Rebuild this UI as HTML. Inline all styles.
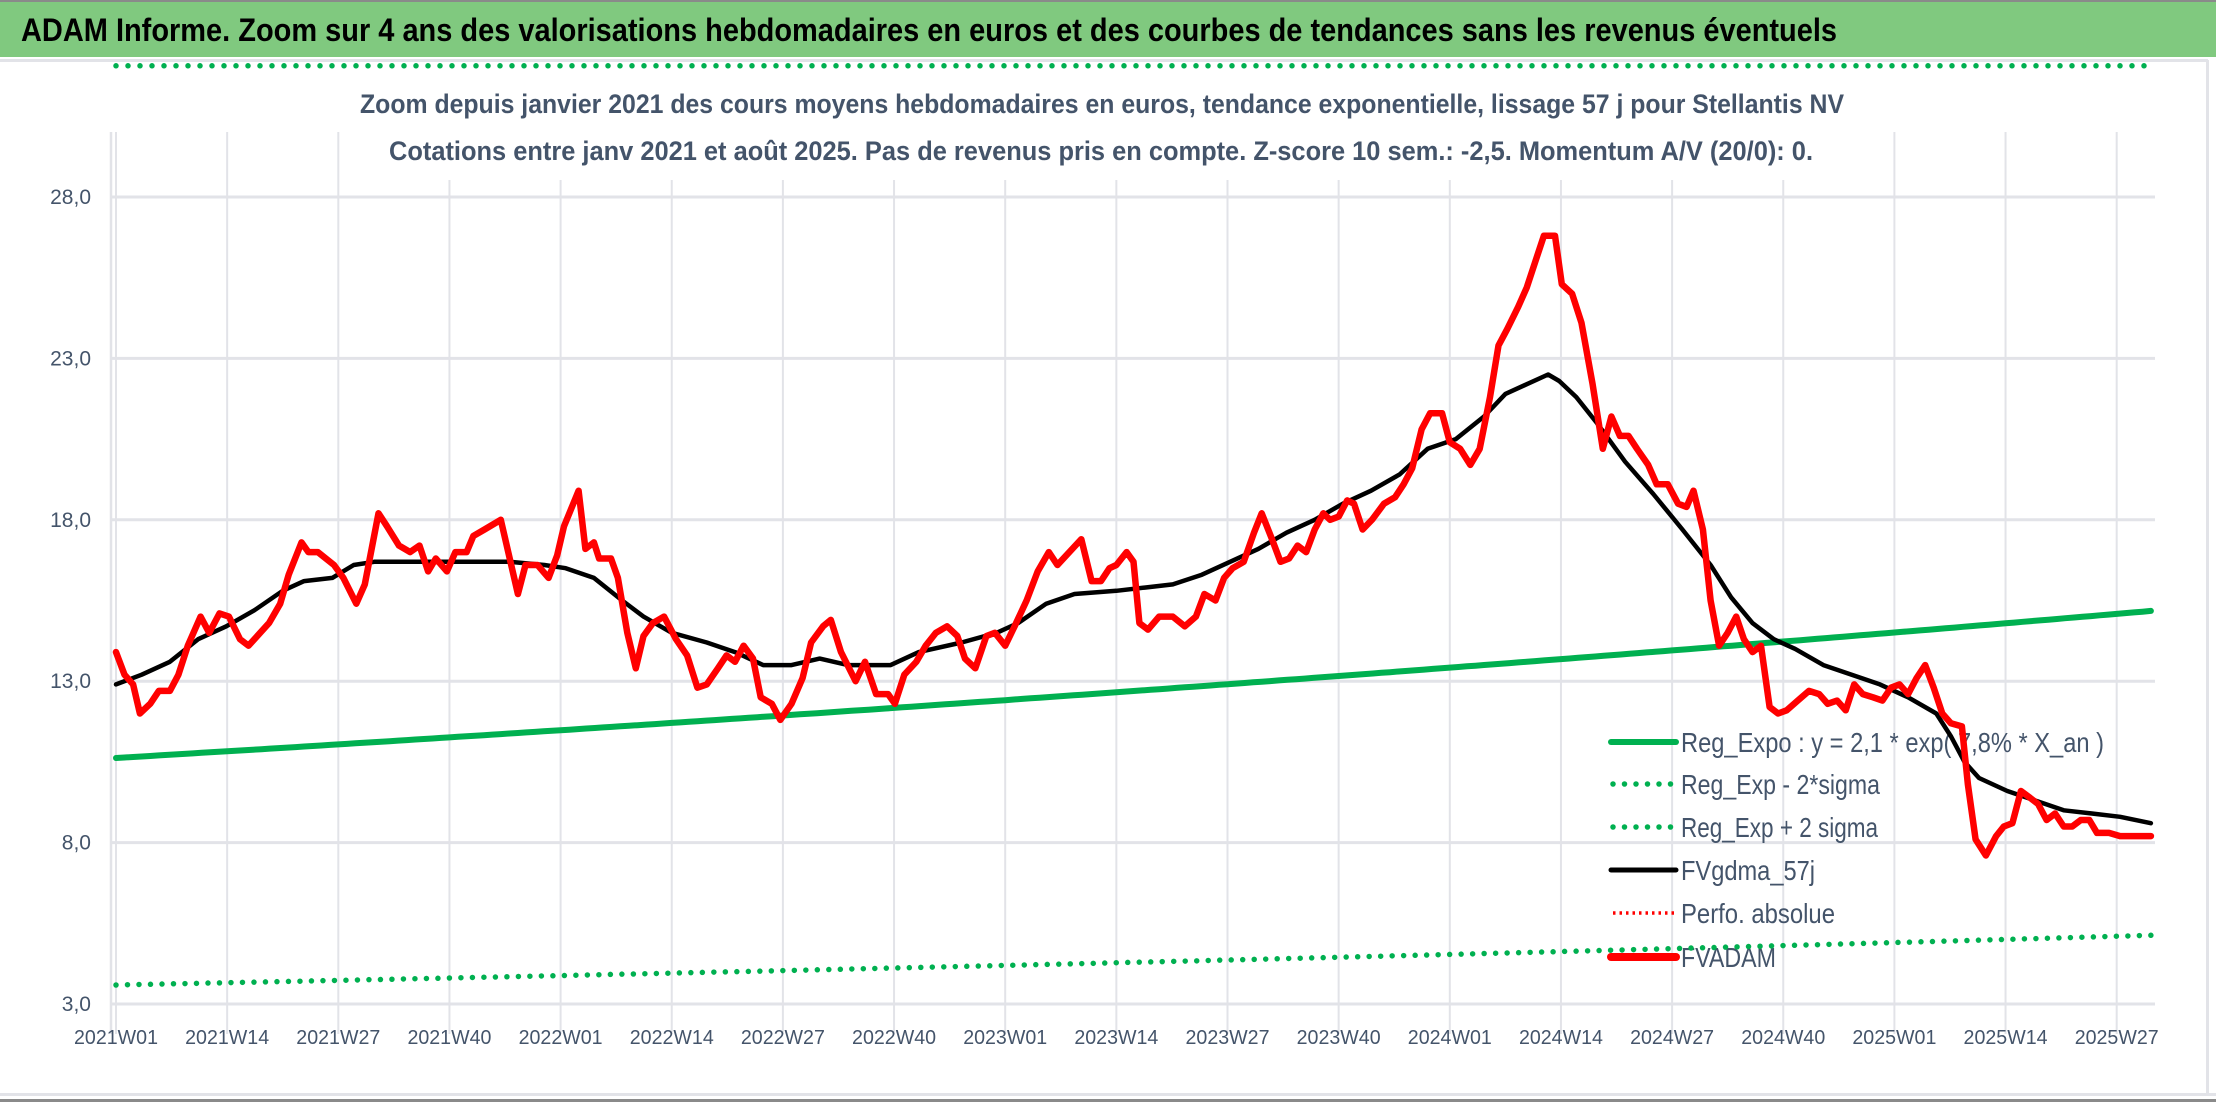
<!DOCTYPE html>
<html><head><meta charset="utf-8"><style>
html,body{margin:0;padding:0;background:#fff;}
svg{display:block;font-family:"Liberation Sans",sans-serif;}
</style></head><body>
<svg id="chart" width="2216" height="1102" viewBox="0 0 2216 1102" xmlns="http://www.w3.org/2000/svg">
<rect x="0" y="0" width="2216" height="1102" fill="#fff"/>
<rect x="0" y="0" width="2216" height="57" fill="#80c97f"/>
<rect x="0" y="0" width="2216" height="2" fill="#8a8a8a"/>
<rect x="0" y="59" width="2208" height="3" fill="#e2e3e8"/>
<rect x="2206" y="60" width="3" height="1035" fill="#e2e3e8"/>
<rect x="0" y="1093" width="2216" height="3" fill="#e2e3e8"/>
<rect x="0" y="1099" width="2216" height="3" fill="#8a8a8a"/>
<text x="21" y="41" font-size="32" font-weight="bold" fill="#000" textLength="1816" lengthAdjust="spacingAndGlyphs">ADAM Informe. Zoom sur 4 ans des valorisations hebdomadaires en euros et des courbes de tendances sans les revenus éventuels</text>
<g id="grid"></g>
<g id="upper"></g>
<rect x="350" y="85" width="1500" height="95" fill="#fff"/>
<text x="1102" y="113" font-size="27" font-weight="bold" fill="#44546a" text-anchor="middle" textLength="1484" lengthAdjust="spacingAndGlyphs">Zoom depuis janvier 2021 des cours moyens hebdomadaires en euros, tendance exponentielle, lissage 57 j pour Stellantis NV</text>
<text x="1101" y="160" font-size="27" font-weight="bold" fill="#44546a" text-anchor="middle" textLength="1424" lengthAdjust="spacingAndGlyphs">Cotations entre janv 2021 et août 2025. Pas de revenus pris en compte. Z-score 10 sem.: -2,5. Momentum A/V (20/0): 0.</text>
<g id="axes"></g>
<g id="legend">
 <line x1="1611" y1="742" x2="1676" y2="742" stroke="#00b050" stroke-width="6" stroke-linecap="round"/>
 <text x="1681" y="752" font-size="28" fill="#44546a" textLength="423" lengthAdjust="spacingAndGlyphs">Reg_Expo : y = 2,1 * exp( 7,8% *  X_an )</text>
 <line x1="1613" y1="784" x2="1676" y2="784" stroke="#00b050" stroke-width="5.5" stroke-linecap="round" stroke-dasharray="0 11.5"/>
 <text x="1681" y="794" font-size="28" fill="#44546a" textLength="199" lengthAdjust="spacingAndGlyphs">Reg_Exp - 2*sigma</text>
 <line x1="1613" y1="827" x2="1676" y2="827" stroke="#00b050" stroke-width="5.5" stroke-linecap="round" stroke-dasharray="0 11.5"/>
 <text x="1681" y="837" font-size="28" fill="#44546a" textLength="197" lengthAdjust="spacingAndGlyphs">Reg_Exp + 2 sigma</text>
 <line x1="1611" y1="870" x2="1676" y2="870" stroke="#000" stroke-width="5" stroke-linecap="round"/>
 <text x="1681" y="880" font-size="28" fill="#44546a" textLength="134" lengthAdjust="spacingAndGlyphs">FVgdma_57j</text>
 <line x1="1613" y1="913" x2="1676" y2="913" stroke="#ff0000" stroke-width="3.5" stroke-dasharray="2.5 4"/>
 <text x="1681" y="923" font-size="28" fill="#44546a" textLength="154" lengthAdjust="spacingAndGlyphs">Perfo. absolue</text>
 <line x1="1611" y1="957" x2="1676" y2="957" stroke="#ff0000" stroke-width="8" stroke-linecap="round"/>
 <text x="1681" y="967" font-size="28" fill="#44546a" textLength="95" lengthAdjust="spacingAndGlyphs">FVADAM</text>
</g>
<g id="series"></g>
</svg>
<script>
// ---- data ----
const xTickLabels = ["2021W01","2021W14","2021W27","2021W40","2022W01","2022W14","2022W27","2022W40","2023W01","2023W14","2023W27","2023W40","2024W01","2024W14","2024W27","2024W40","2025W01","2025W14","2025W27"];
const yTickValues = [3,8,13,18,23,28];
const yTickLabels = ["3,0","8,0","13,0","18,0","23,0","28,0"];
const weekCount = 239;
const regStart = 10.62;
const regRate = 0.078;
const lowerFactor = 0.338;
const upperClip = 30.05;
const fvadamWeeks = [0,1,2,2.8,4,5,6.3,7.3,8.4,9.9,10.9,12.1,13.2,14.5,15.5,17.9,19.2,20.2,21.7,22.5,23.6,25.5,26.6,28.1,29.1,30.7,31.7,33.1,34.4,35.5,36.5,37.4,38.7,39.7,41,41.8,43.1,45,47,47.9,49.3,50.6,51.6,52.4,54.1,54.9,55.9,56.5,57.9,58.7,59.8,60.8,61.7,62.8,64.1,65.5,66.8,68,69.1,70.4,71.4,72.4,73.4,74.5,75.4,76.7,77.7,79,80.3,81.3,82.7,83.6,84.8,86.5,87.6,88.9,90.3,91.1,92.2,93.6,94.7,95.9,97.2,98.4,99.3,100.5,101.8,102.8,104,105.1,106.5,107.8,109.1,110.1,112.9,114.1,115.2,116.2,117,118.2,119,119.7,120.7,122,123.6,125,126.3,127.3,128.6,129.6,130.6,131.9,133.1,134,135.2,136.2,137.2,138.2,139.2,140.2,141.2,142,143,144,144.8,145.8,146.9,148.3,149.6,150.6,151.6,152.7,153.7,155.1,156,157.2,158.4,159.5,160.7,161.7,162.7,164,165,166,167,168.3,169.1,170.3,171.4,172.7,173.9,174.9,175.9,176.9,177.9,179.2,180.2,181.5,182.7,183.7,184.5,185.6,186.5,187.5,188.5,189.5,190.4,191.4,192.4,193.4,194.4,195.4,196.7,198,199.2,200.2,201.3,202.3,203.3,204.3,205.5,206.6,207.6,208.6,209.6,210.6,211.6,212.6,213.6,214.6,215.9,216.6,217.5,218.7,219.9,220.8,221.8,222.8,223.8,224.8,225.8,226.8,227.8,228.8,229.8,230.8,231.7,233.1,234.4,236,238];
const fvadamValues = [13.9,13.2,12.9,12.0,12.3,12.7,12.7,13.2,14.1,15.0,14.5,15.1,15.0,14.3,14.1,14.8,15.4,16.3,17.3,17.0,17.0,16.6,16.2,15.4,16.0,18.2,17.8,17.2,17.0,17.2,16.4,16.8,16.4,17.0,17.0,17.5,17.7,18.0,15.7,16.6,16.6,16.2,16.9,17.8,18.9,17.1,17.3,16.8,16.8,16.2,14.5,13.4,14.4,14.8,15.0,14.3,13.8,12.8,12.9,13.4,13.8,13.6,14.1,13.7,12.5,12.3,11.8,12.3,13.1,14.2,14.7,14.9,13.9,13.0,13.6,12.6,12.6,12.3,13.2,13.6,14.1,14.5,14.7,14.4,13.7,13.4,14.4,14.5,14.1,14.7,15.5,16.4,17.0,16.6,17.4,16.1,16.1,16.5,16.6,17.0,16.7,14.8,14.6,15.0,15.0,14.7,15.0,15.7,15.5,16.2,16.5,16.7,17.6,18.2,17.4,16.7,16.8,17.2,17.0,17.7,18.2,18.0,18.1,18.6,18.5,17.7,18.0,18.5,18.7,19.1,19.6,20.8,21.3,21.3,20.4,20.2,19.7,20.2,21.8,23.4,23.9,24.6,25.2,26.0,26.8,26.8,25.3,25.0,24.1,22.2,20.2,21.2,20.6,20.6,20.2,19.7,19.1,19.1,18.5,18.4,18.9,17.7,15.5,14.1,14.5,15.0,14.3,13.9,14.1,12.2,12.0,12.1,12.4,12.7,12.6,12.3,12.4,12.1,12.9,12.6,12.5,12.4,12.8,12.9,12.6,13.1,13.5,12.8,12.0,11.7,11.6,9.8,8.1,7.6,8.2,8.5,8.6,9.6,9.4,9.2,8.7,8.9,8.5,8.5,8.7,8.7,8.3,8.3,8.2,8.2,8.2];
const smoothWeeks = [0,3,6.3,9.6,12.9,16.2,19.5,22,25.3,27.8,30.2,34.4,41,46,50.1,52.6,55.9,59.2,61.7,65,69.1,72.4,75.7,79,82.3,85.6,88.1,90.6,93.9,98.9,103,105.5,108.8,112.1,117,120.3,123.6,127,130.3,133.6,136.9,140.2,143.5,146.8,150.1,153.4,156.7,160,162.5,165,167.5,168.8,170.8,173.2,176.5,179.8,183.2,186.5,188.9,191.4,193.9,196.4,199.7,203,206.3,209.6,212.9,214.6,216.2,217.9,221.2,224.5,227.8,231.1,234.4,238];
const smoothValues = [12.9,13.2,13.6,14.3,14.7,15.2,15.8,16.1,16.2,16.6,16.7,16.7,16.7,16.7,16.6,16.5,16.2,15.5,15.0,14.5,14.2,13.9,13.5,13.5,13.7,13.5,13.5,13.5,13.9,14.2,14.5,14.8,15.4,15.7,15.8,15.9,16.0,16.3,16.7,17.1,17.6,18.0,18.5,18.9,19.4,20.2,20.5,21.2,21.9,22.2,22.5,22.3,21.8,21.0,19.8,18.8,17.7,16.6,15.6,14.8,14.3,14.0,13.5,13.2,12.9,12.5,12.0,11.3,10.5,10.0,9.6,9.3,9.0,8.9,8.8,8.6];

// ---- axes ----
const X0 = 116, PX_PER_WEEK = 8.55;
const Y_TOP = 197, Y_BOT = 1004, V_TOP = 28, V_BOT = 3;
const PLOT_L = 111, PLOT_R = 2155;
function xScale(w){ return X0 + w * PX_PER_WEEK; }
function yScale(v){ return Y_BOT - (v - V_BOT) * (Y_BOT - Y_TOP) / (V_TOP - V_BOT); }
const NS = "http://www.w3.org/2000/svg";
function mk(tag, attrs, parent){ const e = document.createElementNS(NS, tag); for (const k in attrs) e.setAttribute(k, attrs[k]); parent.appendChild(e); return e; }
function regValue(w){ return regStart * Math.exp(regRate * w / 52); }

const grid = document.getElementById('grid');
const axes = document.getElementById('axes');
yTickValues.forEach((v, i) => {
  const gl = mk('line', {x1: PLOT_L, x2: PLOT_R, y1: yScale(v), y2: yScale(v), stroke: '#e2e3e8', 'stroke-width': 3}, grid);
  
  
  const t = mk('text', {x: 91, y: yScale(v) + 7, 'font-size': 21, fill: '#44546a', 'text-anchor': 'end'}, axes);
  t.textContent = yTickLabels[i];
  
  
});
const vl = mk('line', {x1: PLOT_L, x2: PLOT_L, y1: 132, y2: Y_BOT + 30, stroke: '#e2e3e8', 'stroke-width': 2.5}, grid);


xTickLabels.forEach((lab, i) => {
  const x = xScale(i * 13);
  const gl = mk('line', {x1: x, x2: x, y1: 132, y2: Y_BOT + 30, stroke: '#e2e3e8', 'stroke-width': 2}, grid);
  
  
  const t = mk('text', {x: x, y: 1044, 'font-size': 20, fill: '#44546a', 'text-anchor': 'middle', textLength: 84, lengthAdjust: 'spacingAndGlyphs'}, axes);
  t.textContent = lab;
  
  
});

// upper band (clipped at top of chart)
const upper = document.getElementById('upper');
const uPts = [];
for (let w = 0; w < weekCount; w++) uPts.push(xScale(w).toFixed(1) + ',' + (yScale(Math.min(regValue(w) * 2.9, upperClip)) - 65).toFixed(1));
const up = mk('polyline', {points: uPts.join(' '), fill: 'none', stroke: '#00b050', 'stroke-width': 5.5, 'stroke-linecap': 'round', 'stroke-dasharray': '0 12'}, upper);



// series
const series = document.getElementById('series');
function poly(ws, vs){ return ws.map((w, i) => xScale(w).toFixed(1) + ',' + yScale(vs[i]).toFixed(1)).join(' '); }
const regW = [], regV = [], lowV = [];
for (let w = 0; w < weekCount; w++) { regW.push(w); regV.push(regValue(w)); lowV.push(regValue(w) * lowerFactor); }
const low = mk('polyline', {points: poly(regW, lowV), fill: 'none', stroke: '#00b050', 'stroke-width': 5.5, 'stroke-linecap': 'round', 'stroke-dasharray': '0 11.5'}, series);


const reg = mk('polyline', {points: poly(regW, regV), fill: 'none', stroke: '#00b050', 'stroke-width': 6, 'stroke-linecap': 'round'}, series);


const sm = mk('polyline', {points: poly(smoothWeeks, smoothValues), fill: 'none', stroke: '#000', 'stroke-width': 4.5, 'stroke-linejoin': 'round', 'stroke-linecap': 'round'}, series);


const fv = mk('polyline', {points: poly(fvadamWeeks, fvadamValues), fill: 'none', stroke: '#ff0000', 'stroke-width': 6.5, 'stroke-linejoin': 'round', 'stroke-linecap': 'round'}, series);


</script>
</body></html>
